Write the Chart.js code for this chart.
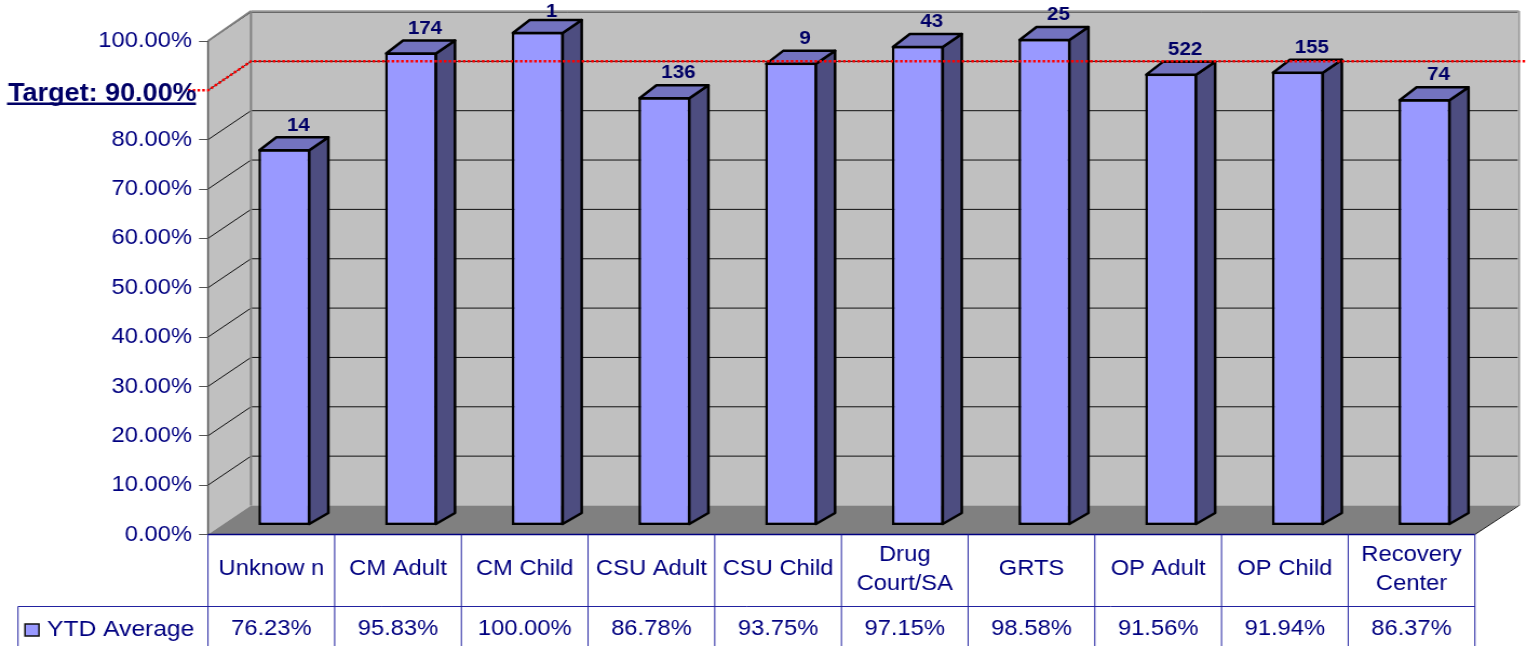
<!DOCTYPE html>
<html>
<head>
<meta charset="utf-8">
<title>YTD Average</title>
<script src="https://cdn.jsdelivr.net/npm/chart.js@4"></script>
<style>
  html, body { margin: 0; padding: 0; background: #fff; overflow: hidden; }
  canvas { display: block; transform-origin: 0 0; }
</style>
</head>
<body>
<canvas id="ytd-chart"></canvas>
<script>
const categories = [['Unknow n'], ['CM Adult'], ['CM Child'], ['CSU Adult'], ['CSU Child'], ['Drug', 'Court/SA'], ['GRTS'], ['OP Adult'], ['OP Child'], ['Recovery', 'Center']];
const ytdAverage = [76.23, 95.83, 100, 86.78, 93.75, 97.15, 98.58, 91.56, 91.94, 86.37];
const counts = [14, 174, 1, 136, 9, 43, 25, 522, 155, 74];
const yTickLabels = ['0.00%', '10.00%', '20.00%', '30.00%', '40.00%', '50.00%', '60.00%', '70.00%', '80.00%', '', '100.00%'];
const targetValue = 90;
const targetLabel = 'Target: 90.00%';
const seriesName = 'YTD Average';

// The original picture is wider than its fonts: draw narrow and stretch the canvas
const stretch = 1.08;
const X = (x) => x / stretch;

const navy = '#000080';
const darkNavy = '#000066';
const wallDx = X(43), wallDy = -29;     // back wall offset
const barDx = X(13), barDy = -9;        // bars stand inside the floor
const sideDx = X(18), sideDy = -12;     // bar depth
const sansFont = '"Liberation Sans", Arial, sans-serif';

function poly(ctx, points, fill, stroke, width) {
    ctx.beginPath();
    points.forEach((p, i) => i ? ctx.lineTo(p[0], p[1]) : ctx.moveTo(p[0], p[1]));
    ctx.closePath();
    if (fill) { ctx.fillStyle = fill; ctx.fill(); }
    if (stroke) { ctx.strokeStyle = stroke; ctx.lineWidth = width; ctx.stroke(); }
}

function line(ctx, x0, y0, x1, y1, color, width) {
    ctx.beginPath();
    ctx.moveTo(x0, y0);
    ctx.lineTo(x1, y1);
    ctx.strokeStyle = color;
    ctx.lineWidth = width;
    ctx.stroke();
}

const box3d = {
    id: 'box3d',
    beforeDatasetsDraw(chart) {
        const { ctx, chartArea: a, scales: { y } } = chart;
        const backL = a.left + wallDx, backR = a.right + wallDx;
        ctx.save();
        // back wall, left wall, floor
        poly(ctx, [[backL, a.top + wallDy], [backR, a.top + wallDy], [backR, a.bottom + wallDy], [backL, a.bottom + wallDy]], '#c0c0c0');
        poly(ctx, [[a.left, a.top], [backL, a.top + wallDy], [backL, a.bottom + wallDy], [a.left, a.bottom]], '#c0c0c0');
        poly(ctx, [[a.left, a.bottom], [backL, a.bottom + wallDy], [backR, a.bottom + wallDy], [a.right, a.bottom]], '#808080');
        y.ticks.forEach((t) => {
            if (t.value === 0) return;
            const py = y.getPixelForValue(t.value);
            line(ctx, a.left, py, backL, py + wallDy, '#111', 1);
            line(ctx, backL, py + wallDy, backR, py + wallDy, '#111', 1);
        });
        // wall edges
        line(ctx, a.left, a.top, backL, a.top + wallDy - 1, '#808080', 2);
        line(ctx, backL, a.top + wallDy - 1, backR + 1, a.top + wallDy - 1, '#999', 1.5);
        line(ctx, backR + 1, a.top + wallDy - 1, backR + 1, a.bottom + wallDy, '#999', 2);
        line(ctx, backL, a.top + wallDy, backL, a.bottom + wallDy, '#808080', 2);
        line(ctx, a.left, a.top, a.left, a.bottom, '#555', 1.5);
        line(ctx, a.right, a.bottom, backR + 1, a.bottom + wallDy, '#111', 1);
        ctx.restore();
        // the library draws the bar fronts shifted back onto the floor
        ctx.save();
        ctx.translate(barDx, barDy);
    },
    afterDatasetsDraw(chart) {
        const { ctx, chartArea: a, scales: { x, y } } = chart;
        const bars = chart.getDatasetMeta(0).data;
        ctx.lineJoin = 'round';
        bars.forEach((bar) => {
            const r = bar.x + bar.width / 2, l = bar.x - bar.width / 2;
            poly(ctx, [[r - 1, bar.y + 1], [r + sideDx, bar.y + sideDy], [r + sideDx, bar.base + sideDy], [r - 1, bar.base - 1]], '#4d4d80', '#000', 2.5);
            poly(ctx, [[l + 1, bar.y + 1], [l + sideDx, bar.y + sideDy], [r + sideDx, bar.y + sideDy], [r - 1, bar.y + 1]], '#7373bf', '#000', 2.5);
        });
        ctx.restore();

        ctx.save();
        // n above each bar, kept inside the top of the picture
        ctx.font = 'bold 19px ' + sansFont;
        ctx.fillStyle = darkNavy;
        ctx.textAlign = 'center';
        ctx.textBaseline = 'middle';
        bars.forEach((bar, i) => ctx.fillText(String(counts[i]), bar.x + barDx + X(14), Math.max(bar.y + barDy - 24, 12)));

        // target line
        const ty = y.getPixelForValue(targetValue);
        ctx.beginPath();
        ctx.moveTo(X(188), ty);
        ctx.lineTo(a.left, ty);
        ctx.lineTo(a.left + wallDx, ty + wallDy);
        ctx.lineTo(chart.width, ty + wallDy);
        ctx.setLineDash([2.4, 2]);
        ctx.strokeStyle = '#ff0000';
        ctx.lineWidth = 2.5;
        ctx.stroke();
        ctx.setLineDash([]);

        ctx.font = 'bold 25px ' + sansFont;
        ctx.fillStyle = darkNavy;
        ctx.textAlign = 'left';
        ctx.textBaseline = 'alphabetic';
        ctx.fillText(targetLabel, X(8), ty + 10.5);
        line(ctx, X(7), ty + 13.5, X(196), ty + 13.5, darkNavy, 2.5);

        // data table
        const rowY = 606.5, tableBottom = chart.height;
        const step = (a.right - a.left) / categories.length;
        const tableLine = '#2222a0';
        line(ctx, a.left, a.bottom, a.right, a.bottom, navy, 1.5);
        line(ctx, X(18), rowY, a.right, rowY, tableLine, 1);
        line(ctx, X(18), rowY, X(18), tableBottom, tableLine, 1);
        for (let i = 0; i <= categories.length; i++) {
            const lx = a.left + step * i;
            line(ctx, lx, a.bottom, lx, tableBottom, tableLine, 1);
        }
        ctx.font = '22px ' + sansFont;
        ctx.fillStyle = navy;
        ctx.textAlign = 'center';
        ctx.textBaseline = 'middle';
        categories.forEach((lines, i) => {
            const cx = x.getPixelForValue(i);
            const first = 569 - (lines.length - 1) * 14.5;
            lines.forEach((text, j) => ctx.fillText(text, cx, first + j * 29));
            ctx.fillText(ytdAverage[i].toFixed(2) + '%', cx, 629);
        });
        // legend key
        ctx.textAlign = 'left';
        ctx.font = '22.8px ' + sansFont;
        ctx.fillText(seriesName, X(47), 630);
        ctx.fillStyle = '#9999ff';
        ctx.fillRect(X(25), 624, X(14), 12);
        ctx.strokeStyle = '#111';
        ctx.lineWidth = 1.5;
        ctx.strokeRect(X(25), 624, X(14), 12);
        ctx.restore();
    }
};

const canvas = document.getElementById('ytd-chart');
canvas.width = Math.round(1527 / stretch);
canvas.height = 646;

new Chart(canvas, {
    type: 'bar',
    data: {
        labels: categories.map((c) => c.join(' ')),
        datasets: [{
            label: seriesName,
            data: ytdAverage,
            backgroundColor: '#9999ff',
            borderColor: '#000',
            borderWidth: 2.5,
            borderSkipped: false,
            barPercentage: 0.41,
            categoryPercentage: 1,
            clip: false
        }]
    },
    options: {
        responsive: false,
        animation: false,
        devicePixelRatio: 1,
        layout: { padding: { top: 41, right: canvas.width - X(1475), left: 0, bottom: 0 } },
        plugins: { legend: { display: false }, tooltip: { enabled: false } },
        scales: {
            x: {
                ticks: { display: false },
                grid: { display: false },
                border: { display: false },
                afterFit(scale) { scale.height = 646 - 534.5; }
            },
            y: {
                min: 0,
                max: 100,
                ticks: {
                    stepSize: 10,
                    padding: X(7),
                    color: navy,
                    font: { family: sansFont, size: 22 },
                    callback: (value, index) => yTickLabels[index]
                },
                grid: {
                    drawOnChartArea: false,
                    tickLength: X(9),
                    tickColor: (c) => c.tick && c.tick.value === targetValue ? 'transparent' : '#555'
                },
                border: { display: false },
                afterFit(scale) { scale.width = X(208); }
            }
        }
    },
    plugins: [box3d]
});

canvas.style.transform = 'scaleX(' + (1527 / canvas.width) + ')';
</script>
</body>
</html>
